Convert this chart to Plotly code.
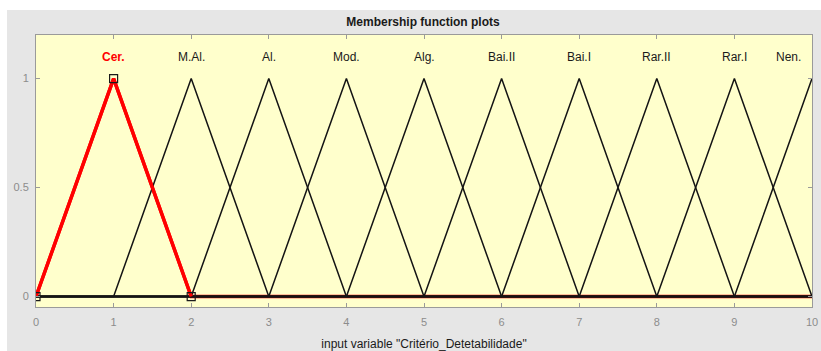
import plotly.graph_objects as go

# Data
mf_names = ["Cer.", "M.Al.", "Al.", "Mod.", "Alg.", "Bai.II", "Bai.I", "Rar.II", "Rar.I", "Nen."]
mf_a = [0, 1, 2, 3, 4, 5, 6, 7, 8, 9]
mf_b = [1, 2, 3, 4, 5, 6, 7, 8, 9, 10]
mf_c = [2, 3, 4, 5, 6, 7, 8, 9, 10, 11]
selected = 0
x_min, x_max = 0, 10
x_ticks = [0, 1, 2, 3, 4, 5, 6, 7, 8, 9, 10]
y_ticks = [0, 0.5, 1]
y_tick_text = ["0", "0.5", "1"]


def trimf(x, a, b, c):
    if x <= a or x >= c:
        return 1.0 if x == b else 0.0
    if x <= b:
        return (x - a) / (b - a) if b != a else 1.0
    return (c - x) / (c - b) if c != b else 1.0


def mf_points(a, b, c):
    xs = sorted(set([x_min, x_max] + [v for v in (a, b, c) if x_min <= v <= x_max]))
    ys = [trimf(v, a, b, c) for v in xs]
    return xs, ys


fig = go.Figure()

# selected MF full (thick red, below)
sx, sy = mf_points(mf_a[selected], mf_b[selected], mf_c[selected])
fig.add_trace(go.Scatter(x=sx, y=sy, mode="lines", line=dict(color="#ff0000", width=3.4),
                         hoverinfo="skip", showlegend=False))

# other MFs in black
for i in range(len(mf_names)):
    if i == selected:
        continue
    xs, ys = mf_points(mf_a[i], mf_b[i], mf_c[i])
    fig.add_trace(go.Scatter(x=xs, y=ys, mode="lines", line=dict(color="#141414", width=1.5),
                             hoverinfo="skip", showlegend=False))

# selected MF non-zero part on top
nz_x = [v for v in sx if mf_a[selected] <= v <= mf_c[selected]]
nz_y = [trimf(v, mf_a[selected], mf_b[selected], mf_c[selected]) for v in nz_x]
fig.add_trace(go.Scatter(x=nz_x, y=nz_y, mode="lines", line=dict(color="#ff0000", width=3.4),
                         hoverinfo="skip", showlegend=False))

# handles
hx = [mf_a[selected], mf_b[selected], mf_c[selected]]
hy = [trimf(v, mf_a[selected], mf_b[selected], mf_c[selected]) for v in hx]
fig.add_trace(go.Scatter(x=hx, y=hy, mode="markers", cliponaxis=True,
                         marker=dict(symbol="square-open", size=8, color="#1a1a1a", line=dict(width=1.2)),
                         hoverinfo="skip", showlegend=False))

# MF labels
for i, name in enumerate(mf_names):
    lx = min(mf_b[i], x_max - 0.3)
    fig.add_annotation(x=lx, y=1.1, text=("<b>%s</b>" % name) if i == selected else name,
                       showarrow=False, xanchor="center", yanchor="middle",
                       font=dict(size=12, color="#ff0000" if i == selected else "#1a1a1a",
                                 family="Liberation Sans, Arial, sans-serif"))

W, H = 821, 351
ML, MR, MT, MB = 36, 9, 35, 44
fig.update_layout(
    width=W, height=H,
    margin=dict(l=ML, r=MR, t=MT, b=MB, autoexpand=False),
    paper_bgcolor="#e6e6e6",
    plot_bgcolor="#ffffcc",
    font=dict(family="Liberation Sans, Arial, sans-serif", size=12, color="#1a1a1a"),
    title=dict(text="<b>Membership function plots</b>", x=423 / W, xanchor="center",
               y=1 - 22 / H, yanchor="middle", font=dict(size=12, color="#1a1a1a")),
    showlegend=False,
)

fig.update_xaxes(range=[x_min, x_max], tickvals=x_ticks, ticks="inside", ticklen=4,
                 tickcolor="#9a9a9a", showline=True, linecolor="#9a9a9a", linewidth=1,
                 mirror="ticks", showgrid=False, zeroline=False, automargin=False,
                 ticklabelstandoff=5, ticklabeloverflow="allow",
                 tickfont=dict(size=11, color="#8c8c8c"),
                 title=dict(text='input variable "Critério_Detetabilidade"', standoff=16,
                            font=dict(size=12, color="#1a1a1a")))
fig.update_yaxes(range=[-0.048, 1.2], tickvals=y_ticks, ticktext=y_tick_text, ticks="inside",
                 ticklen=4, tickcolor="#9a9a9a", showline=True, linecolor="#9a9a9a", linewidth=1,
                 mirror="ticks", showgrid=False, zeroline=False, automargin=False,
                 ticklabelstandoff=4,
                 tickfont=dict(size=11, color="#8c8c8c"))

# white border bands of the figure (outside plot area)
plot_w = W - ML - MR
plot_h = H - MT - MB
fig.add_shape(type="rect", xref="paper", yref="paper", x0=-0.1, x1=1.1,
              y0=1 + (MT - 10) / plot_h, y1=1.2,
              fillcolor="white", line=dict(width=0), layer="above")
fig.add_shape(type="rect", xref="paper", yref="paper", x0=-0.1, x1=-(ML - 7) / plot_w,
              y0=-0.3, y1=1.2, fillcolor="white", line=dict(width=0), layer="above")

fig.write_html("out.html", config={"responsive": False, "displayModeBar": False},
               post_script="document.body.style.margin='0';document.body.style.overflow='hidden';")
